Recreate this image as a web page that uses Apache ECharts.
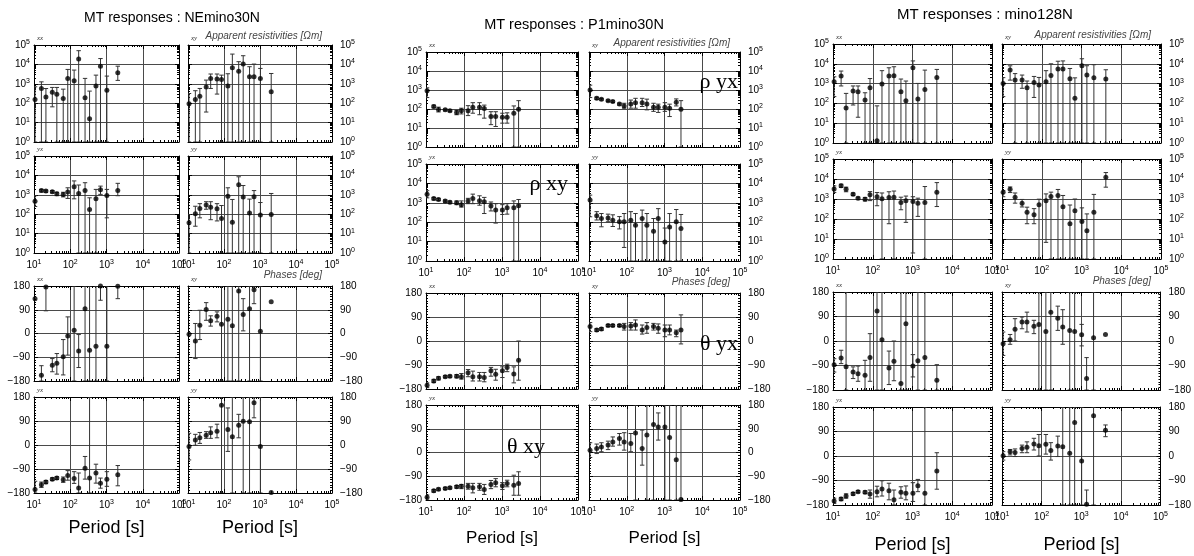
<!DOCTYPE html>
<html>
<head>
<meta charset="utf-8">
<script src="https://cdn.jsdelivr.net/npm/echarts@6/dist/echarts.min.js"></script>
<style>
  html, body { margin: 0; padding: 0; background: #fff; }
  #chart { width: 1194px; height: 556px; }
</style>
</head>
<body>
<div id="chart"></div>
<script>
// periods [s] for each station
const NE_T = [10.67, 16, 21.33, 32, 42.67, 64, 85.33, 128, 170.67, 256, 341.33, 512, 682.67, 1024, 2048];
const P1_T = [10.67, 16, 21.33, 32, 42.67, 64, 85.33, 128, 170.67, 256, 341.33, 512, 682.67, 1024, 1365.33, 2048, 2730.67];
const M128_T = [10.67, 16, 21.33, 32, 42.67, 64, 85.33, 128, 170.67, 256, 341.33, 512, 682.67, 1024, 1365.33, 2048, 4096];

// [value, low, high] -- resistivity in Ohm.m, phase in deg (null = no error bar)
const NE_rho_xx = [[155,1,700],[575,1,1260],[210,1,570],[370,65,650],[290,1,650],[175,1,530],[1900,1,5500],[1450,1,5100],[19000,1,51000],[190,1,1900],[16,1,420],[760,1,2800],[8100,1,20000],[470,1,2500],[3700,1500,8100]];
const NE_rho_xy = [[95,1,316],[155,1,440],[230,1,575],[690,35,1550],[1900,575,3200],[1750,295,3200],[1670,1,2800],[760,1,3300],[6700,1,34000],[4400,1,13800],[10500,1,28000],[2300,1,7600],[2300,1,10400],[1900,1,6200],[390,1,3400]];
const NE_rho_yx = [[470,250,900],[1660,1400,1900],[1550,1350,1750],[1440,1250,1650],[1130,900,1350],[1040,780,1350],[1380,650,2300],[2600,620,5200],[1170,1,3200],[1660,1,4200],[175,1,700],[620,1,1900],[1800,1050,2800],[930,65,1900],[1660,900,3900]];
const NE_rho_yy = [[36,1,96],[105,24,257],[195,65,350],[295,180,440],[230,52,440],[190,45,350],[60,1,280],[850,1,2300],[39,1,575],[3300,1,8500],[760,1,3000],[117,1,600],[790,1,1650],[90,1,400],[96,1,1170]];
const NE_phi_xx = [[132,null,null],[-158,-180,-122],[176,86,180],[-120,-145,-95],[-113,-154,-76],[-88,-157,-23],[-9,-82,63],[12,-180,180],[-66,-129,-4],[94,-180,180],[-63,-180,180],[-48,-180,180],[180,126,180],[-48,-180,180],[179,132,180]];
const NE_phi_xy = [[-3,null,null],[-28,-95,38],[31,-23,88],[91,50,117],[48,28,67],[65,44,82],[35,-180,180],[54,-180,180],[29,-180,180],[161,-180,180],[72,10,132],[94,-180,180],[166,113,180],[9,-180,180],[120,null,null]];
const NE_phi_yx = [[-167,-180,-136],[-149,-159,-139],[-139,-145,-133],[-128,-133,-123],[-124,-129,-119],[-130,-140,-120],[-114,-132,-96],[-126,-144,-100],[-161,-180,-105],[-87,-128,-43],[-124,-180,180],[-105,-143,-72],[-143,-162,-124],[-128,-155,-100],[-112,-153,-77]];
const NE_phi_yy = [[-6,-56,44],[19,-1,40],[27,6,47],[37,25,50],[46,25,68],[52,27,78],[149,-180,180],[58,-24,139],[31,-180,180],[74,27,115],[89,-180,180],[87,-180,180],[158,102,180],[-6,-180,180],[-178,null,null]];

const P1_rho_xx = [[900,400,1300],[135,115,160],[95,70,125],[90,80,100],[80,72,90],[65,50,85],[80,55,110],[80,45,150],[122,60,215],[122,50,215],[105,33,160],[40,15,72],[40,12,72],[37,18,60],[37,18,63],[60,1,145],[97,1,275]];
const P1_rho_xy = [[1000,400,1800],[365,320,420],[325,290,360],[275,250,300],[245,220,270],[183,160,205],[144,110,200],[183,110,295],[215,110,365],[215,135,365],[183,90,330],[122,75,200],[122,66,180],[122,75,215],[110,40,180],[225,145,340],[97,1,275]];
const P1_rho_yx = [[2800,1800,4200],[1660,1400,1900],[1480,1300,1700],[1230,1080,1400],[1080,950,1230],[1000,800,1250],[790,600,1250],[1230,900,1700],[1660,900,2800],[1260,750,2300],[1120,280,1900],[680,380,1100],[420,90,900],[420,250,800],[550,260,900],[550,1,1250],[700,1,1480]];
const P1_rho_yy = [[1380,190,2500],[215,130,350],[155,58,280],[166,105,260],[126,60,240],[104,45,195],[104,5,280],[126,1,350],[69,1,280],[155,1,420],[69,1,280],[34,1,155],[155,1,500],[9.5,1,50],[57,1,280],[104,1,450],[47,1,250]];
const P1_phi_xx = [[-166,-175,-157],[-150,-156,-144],[-140,-146,-134],[-134,-138,-130],[-132,-136,-128],[-132,-138,-126],[-134,-143,-122],[-119,-134,-107],[-134,-150,-113],[-134,-150,-118],[-137,-153,-118],[-112,-132,-99],[-125,-147,-106],[-112,-137,-97],[-99,-115,-87],[-124,-157,-97],[-72,-147,0]];
const P1_phi_xy = [[54,35,69],[41,36,46],[45,40,50],[58,54,62],[58,54,62],[58,54,62],[54,41,66],[56,41,69],[60,41,79],[41,26,60],[51,29,69],[54,41,66],[48,29,64],[41,16,60],[41,23,60],[31,16,41],[41,-11,98]];
const P1_phi_yx = [[-170,-180,-161],[-145,-150,-140],[-139,-143,-135],[-136,-140,-132],[-134,-138,-130],[-130,-135,-125],[-128,-137,-121],[-128,-139,-117],[-134,-153,-117],[-130,-143,-117],[-140,-159,-121],[-121,-137,-106],[-115,-130,-99],[-126,-140,-114],[-117,-130,-105],[-124,-162,-86],[-117,-162,-73]];
const P1_phi_yy = [[9,-19,37],[15,-4,32],[21,3,37],[28,11,43],[40,24,59],[53,28,72],[40,9,75],[34,3,72],[74,-180,180],[15,-48,85],[66,-180,180],[106,-180,180],[97,47,150],[97,-180,180],[57,-180,180],[-27,-180,180],[-178,-180,180]];

const M128_rho_xx = [[1230,220,2200],[2450,760,4300],[58,1,320],[425,83,760],[390,20,760],[150,1,345],[615,1,1800],[1.3,1,75],[950,1,4500],[2400,1,6300],[2470,1,7100],[390,1,1700],[138,1,1350],[6400,1,14000],[165,1,1020],[510,1,4800],[2040,1,5200]];
const M128_rho_xy = [[1020,220,2000],[4800,1500,7900],[1510,1,3200],[1510,580,2700],[615,1,1350],[1150,200,2300],[850,1,2050],[1230,1,4500],[2570,1,10000],[5400,1,13500],[5400,1,14000],[1750,1,5800],[180,1,1950],[7900,1,18000],[2700,1,8000],[1950,1,9000],[1700,1,5000]];
const M128_rho_yx = [[3200,2100,4500],[4600,3800,5500],[3080,2300,3900],[1730,1500,2000],[1100,950,1250],[980,800,1200],[1610,830,2350],[1290,460,2100],[1020,1,2000],[1180,58,2300],[1230,1,2500],[660,290,1230],[810,68,1400],[745,2,1300],[615,135,1100],[660,1,4200],[2180,420,6600]];
const M128_rho_yy = [[2180,1300,2600],[3080,2100,4000],[1230,620,2000],[615,400,950],[215,58,390],[163,58,330],[510,1,980],[810,6.8,1800],[1320,1,2200],[1480,1,3000],[405,1,1500],[58,1,500],[260,1,1000],[76,1,360],[26,1,180],[220,1,1700],[12300,3900,21000]];
const M128_phi_xx = [[-87,-114,-65],[-62,-83,-34],[-95,-180,180],[-114,-138,-95],[-120,-148,-92],[-126,-180,-71],[-61,-148,27],[110,-180,180],[5,-180,180],[-99,-160,-37],[-74,-146,0],[-156,-180,180],[63,-180,180],[-92,-132,-50],[-73,-180,180],[-61,-180,180],[-144,-180,-87]];
const M128_phi_xy = [[-10,-53,33],[5,-12,24],[43,0,82],[70,45,88],[70,33,106],[54,27,76],[61,-180,180],[35,-180,180],[106,-180,180],[84,39,128],[51,-12,115],[39,-180,180],[35,-180,180],[23,-18,61],[-138,-180,-61],[12,-180,180],[24,null,null]];
const M128_phi_yx = [[-165,-174,-155],[-158,-164,-152],[-147,-155,-139],[-139,-144,-134],[-131,-135,-127],[-133,-138,-128],[-140,-155,-125],[-131,-150,-111],[-121,-147,-91],[-128,-161,-100],[-161,-180,-125],[-133,-155,-113],[-137,-161,-110],[-137,-167,-98],[-109,-131,-86],[-137,-180,180],[-55,-122,12]];
const M128_phi_yy = [[1,-15,16],[16,4,24],[13,-2,26],[28,12,40],[32,12,52],[44,22,65],[38,0,79],[43,7,79],[20,-15,49],[37,-2,73],[34,-180,180],[10,-180,180],[123,-180,180],[-18,-180,180],[-177,-180,-125],[148,-180,180],[95,71,114]];

const comps = ['xx', 'xy', 'yx', 'yy', 'xx', 'xy', 'yx', 'yy'];

const stations = [
  { name: 'NEmino30N', T: NE_T,
    sets: [NE_rho_xx, NE_rho_xy, NE_rho_yx, NE_rho_yy, NE_phi_xx, NE_phi_xy, NE_phi_yx, NE_phi_yy],
    cols: [[34, 179], [188, 332]], rows: [[45, 142], [156, 253], [286, 381], [397, 493]],
    title: [172, 18], titleSize: 14, periodY: 528, periodSize: 18 },
  { name: 'P1mino30N', T: P1_T,
    sets: [P1_rho_xx, P1_rho_xy, P1_rho_yx, P1_rho_yy, P1_phi_xx, P1_phi_xy, P1_phi_yx, P1_phi_yy],
    cols: [[426, 578], [589, 740]], rows: [[52, 147], [164, 261], [293, 389], [405, 500]],
    title: [574, 25], titleSize: 14.5, periodY: 538, periodSize: 17 },
  { name: 'mino128N', T: M128_T,
    sets: [M128_rho_xx, M128_rho_xy, M128_rho_yx, M128_rho_yy, M128_phi_xx, M128_phi_xy, M128_phi_yx, M128_phi_yy],
    cols: [[833, 992], [1002, 1161]], rows: [[44, 143], [159, 259], [292, 390], [407, 505]],
    title: [985, 15], titleSize: 15, periodY: 545, periodSize: 18 }
];

const FONT = '"Liberation Sans", Arial, sans-serif';
const SERIF = '"Liberation Serif", "DejaVu Serif", serif';

function powLabel(v) {
  return '10{s|' + Math.round(Math.log10(v)) + '}';
}
const powRich = { s: { fontSize: 7, fontFamily: FONT, color: '#000', padding: [0, 0, 6, 0] } };

let grids = [], xAxes = [], yAxes = [], series = [], texts = [];

stations.forEach((st, si) => {
  st.sets.forEach((set, k) => {
    const r = Math.floor(k / 2), c = k % 2;
    const gi = grids.length;
    const [x0, x1] = st.cols[c], [y0, y1] = st.rows[r];
    const isPhase = r >= 2;
    grids.push({ left: x0, top: y0, width: x1 - x0, height: y1 - y0, show: false });

    const tickBase = {
      type: 'log', logBase: 10, min: 10, max: 1e5, splitNumber: 4, gridIndex: gi,
      axisLine: { show: true, onZero: false, lineStyle: { color: '#000', width: 1 } },
      axisTick: { show: true, inside: true, length: 4, lineStyle: { color: '#000' } },
      minorTick: { show: true, splitNumber: 9, length: 2, lineStyle: { color: '#000' } },
      minorSplitLine: { show: false }
    };
    xAxes.push(Object.assign({}, tickBase, {
      position: 'bottom',
      splitLine: { show: true, lineStyle: { color: '#4a4a4a', width: 1 } },
      axisLabel: (r === 1 || r === 3) ? {
        show: true, interval: 0, margin: 6, fontSize: 10, fontFamily: FONT, color: '#000',
        formatter: powLabel, rich: powRich
      } : { show: false }
    }));
    xAxes.push(Object.assign({}, tickBase, {
      position: 'top', splitLine: { show: false }, axisLabel: { show: false }
    }));

    const yBase = isPhase ? {
      type: 'value', min: -180, max: 180, interval: 90,
      minorTick: { show: true, splitNumber: 9, length: 2, lineStyle: { color: '#000' } }
    } : {
      type: 'log', logBase: 10, min: 1, max: 1e5, splitNumber: 5,
      minorTick: { show: true, splitNumber: 9, length: 2, lineStyle: { color: '#000' } }
    };
    const yCommon = Object.assign({}, yBase, {
      gridIndex: gi,
      axisLine: { show: true, onZero: false, lineStyle: { color: '#000', width: 1 } },
      axisTick: { show: true, inside: true, length: 4, lineStyle: { color: '#000' } },
      minorSplitLine: { show: false }
    });
    const labelSide = c === 0 ? 'left' : 'right';
    yAxes.push(Object.assign({}, yCommon, {
      position: labelSide,
      splitLine: { show: true, lineStyle: { color: '#4a4a4a', width: 1 } },
      axisLabel: {
        show: true, margin: c === 0 ? 4 : 8, fontSize: 10, fontFamily: FONT, color: '#000',
        formatter: isPhase ? (v => String(v).replace('-', '\u2212')) : powLabel,
        rich: powRich
      }
    }));
    yAxes.push(Object.assign({}, yCommon, {
      position: c === 0 ? 'right' : 'left',
      splitLine: { show: false }, axisLabel: { show: false }
    }));

    const bars = [];
    const pts = [];
    set.forEach((d, i) => {
      pts.push([st.T[i], d[0]]);
      if (d[1] !== null) bars.push([st.T[i], d[1], d[2]]);
    });

    series.push({
      type: 'custom', xAxisIndex: 2 * gi, yAxisIndex: 2 * gi, clip: true, silent: true,
      encode: { x: 0, y: [1, 2] },
      data: bars,
      renderItem: (params, api) => {
        const x = api.value(0);
        const top = api.coord([x, api.value(2)]);
        const bot = api.coord([x, api.value(1)]);
        const cap = 2.2;
        const st = { stroke: '#333', lineWidth: 1 };
        return {
          type: 'group', children: [
            { type: 'line', shape: { x1: top[0], y1: top[1], x2: bot[0], y2: bot[1] }, style: st },
            { type: 'line', shape: { x1: top[0] - cap, y1: top[1], x2: top[0] + cap, y2: top[1] }, style: st },
            { type: 'line', shape: { x1: bot[0] - cap, y1: bot[1], x2: bot[0] + cap, y2: bot[1] }, style: st }
          ]
        };
      },
      z: 3
    });
    series.push({
      type: 'scatter', xAxisIndex: 2 * gi, yAxisIndex: 2 * gi, silent: true,
      symbol: 'circle', symbolSize: 5, itemStyle: { color: '#000' },
      data: pts, z: 4
    });

    // component label
    texts.push({ type: 'text', left: x0 + 3, top: y0 - 10,
      style: { text: comps[k], font: 'italic 7px ' + SERIF, fill: '#333' } });
  });

  // station title and axis captions
  const [tx, ty] = st.title;
  texts.push({ type: 'text', x: tx, y: ty,
    style: { text: 'MT responses : ' + st.name, font: st.titleSize + 'px ' + FONT, fill: '#000',
      textAlign: 'center', textVerticalAlign: 'middle' } });
  const rc = st.cols[1][1] - 10;
  texts.push({ type: 'text', x: rc, y: st.rows[0][0] - 9,
    style: { text: 'Apparent resistivities [\u03A9m]', font: 'italic 10px ' + FONT, fill: '#444',
      textAlign: 'right', textVerticalAlign: 'middle' } });
  texts.push({ type: 'text', x: rc, y: st.rows[2][0] - 11,
    style: { text: 'Phases [deg]', font: 'italic 10px ' + FONT, fill: '#444',
      textAlign: 'right', textVerticalAlign: 'middle' } });
  st.cols.forEach(col => {
    texts.push({ type: 'text', x: (col[0] + col[1]) / 2, y: st.periodY,
      style: { text: 'Period [s]', font: st.periodSize + 'px ' + FONT, fill: '#000',
        textAlign: 'center', textVerticalAlign: 'middle' } });
  });
});

// large annotations on the P1mino30N panel
const notes = [['\u03C1 yx', 738, 82], ['\u03C1 xy', 568, 184], ['\u03B8 yx', 738, 344], ['\u03B8 xy', 545, 447]];
notes.forEach(n => {
  texts.push({ type: 'text', x: n[1], y: n[2], z: 10,
    style: { text: n[0], font: '22px ' + SERIF, fill: '#000', textAlign: 'right', textVerticalAlign: 'middle' } });
});

const chart = echarts.init(document.getElementById('chart'), null, { renderer: 'canvas' });
chart.setOption({
  animation: false,
  backgroundColor: '#fff',
  grid: grids,
  xAxis: xAxes,
  yAxis: yAxes,
  series: series,
  graphic: texts
});
</script>
</body>
</html>
